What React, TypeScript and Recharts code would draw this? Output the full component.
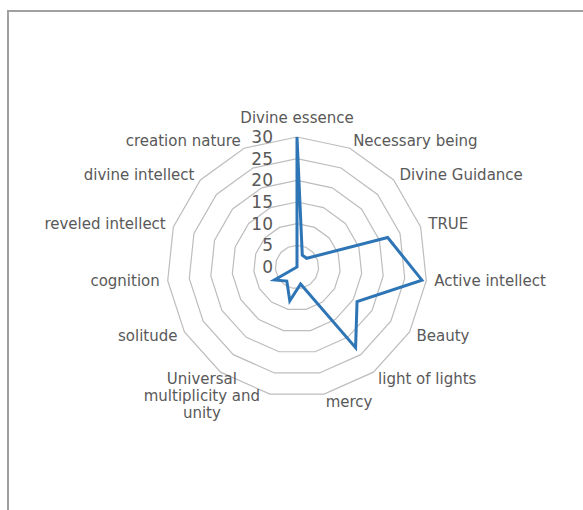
import React from 'react';
import { RadarChart, Radar, PolarGrid, PolarAngleAxis, PolarRadiusAxis } from 'recharts';

const categories = [
  'Divine essence',
  'Necessary being',
  'Divine Guidance',
  'TRUE',
  'Active intellect',
  'Beauty',
  'light of lights',
  'mercy',
  'Universal multiplicity and unity',
  '',
  'solitude',
  'cognition',
  'reveled intellect',
  'divine intellect',
  'creation nature',
];
const values = [30, 3, 3, 22, 29, 16, 23, 4, 8, 4, 6, 0, 0, 0, 0];
const radiusTicks = [0, 5, 10, 15, 20, 25, 30];

const data = categories.map((c, i) => ({ id: String(i), name: c, value: values[i] }));

const W = 583;
const H = 510;
const CX = 297;
const CY = 267;
const R = 130;
const FONT = "'DejaVu Sans', sans-serif";
const TEXT = '#595959';

function wrap(label: string, max: number): string[] {
  const words = label.split(' ');
  const lines: string[] = [];
  let cur = '';
  for (const w of words) {
    if (!cur) cur = w;
    else if ((cur + ' ' + w).length <= max) cur = cur + ' ' + w;
    else {
      lines.push(cur);
      cur = w;
    }
  }
  if (cur) lines.push(cur);
  return lines;
}

const AngleTick = (props: any) => {
  const { x, y, payload } = props;
  const idx = Number(payload.value);
  const label = categories[idx] ?? '';
  if (!label) return null;
  const dx = x - CX;
  const dy = y - CY;
  const len = Math.sqrt(dx * dx + dy * dy) || 1;
  const c = dx / len;
  let anchor: 'start' | 'end' | 'middle' = 'middle';
  if (c > 0.05) anchor = 'start';
  else if (c < -0.05) anchor = 'end';
  let ty = y;
  if (anchor === 'middle') ty = dy < 0 ? y - 11 : y + 11;
  const lines = label.length > 20 ? wrap(label, 16) : [label];
  if (lines.length === 1) {
    return (
      <text x={x} y={ty} textAnchor={anchor} dominantBaseline="central" fontSize={15} fontFamily={FONT} fill={TEXT}>
        {label}
      </text>
    );
  }
  const maxLen = Math.max(...lines.map((l) => l.length));
  const half = (maxLen * 8.3) / 2;
  const mx = anchor === 'end' ? x - half : anchor === 'start' ? x + half : x;
  const lh = 17;
  const top = ty - 6 - ((lines.length - 1) * lh) / 2;
  return (
    <g>
      {lines.map((l, i) => (
        <text key={i} x={mx} y={top + i * lh} textAnchor="middle" dominantBaseline="central" fontSize={15} fontFamily={FONT} fill={TEXT}>
          {l}
        </text>
      ))}
    </g>
  );
};

const RadiusTick = (props: any) => {
  const { x, y, payload } = props;
  return (
    <text x={x - 24} y={y} textAnchor="end" dominantBaseline="central" fontSize={17} fontFamily={FONT} fill={TEXT}>
      {payload.value}
    </text>
  );
};

export default function App() {
  return (
    <div style={{ position: 'absolute', left: 0, top: 0, width: W, height: H, overflow: 'hidden', background: '#fff', fontFamily: FONT }}>
      <div
        style={{
          position: 'absolute',
          left: 7,
          top: 10,
          width: 700,
          height: 700,
          borderTop: '2px solid #a0a0a0',
          borderLeft: '2px solid #a0a0a0',
        }}
      />
      <div style={{ position: 'absolute', left: 0, top: 0 }}>
        <RadarChart width={W} height={H} data={data} cx={CX} cy={CY} outerRadius={R} startAngle={90} endAngle={-270}>
          <PolarGrid gridType="polygon" radialLines={false} stroke="#bdbdbd" strokeWidth={1.2} />
          <PolarAngleAxis dataKey="id" tick={AngleTick} tickLine={false} axisLine={false} />
          <PolarRadiusAxis
            angle={90}
            domain={[radiusTicks[0], radiusTicks[radiusTicks.length - 1]]}
            ticks={radiusTicks as any}
            tickCount={radiusTicks.length}
            tick={RadiusTick}
            axisLine={false}
            tickLine={false}
          />
          <Radar
            dataKey="value"
            stroke="#2e75b6"
            strokeWidth={3}
            fill="none"
            fillOpacity={0}
            dot={false}
            isAnimationActive={false}
            strokeLinejoin="miter"
          />
        </RadarChart>
      </div>
    </div>
  );
}
